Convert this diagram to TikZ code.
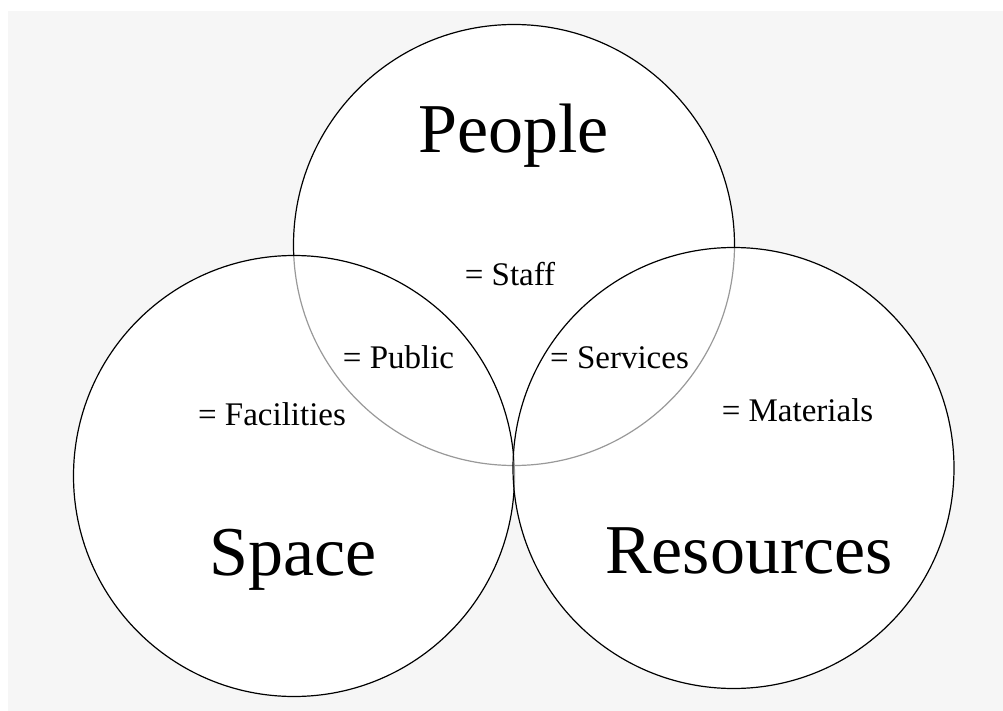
\documentclass[tikz,border=0pt]{standalone}
\usepackage{fontspec}
\setmainfont{Liberation Serif}
\definecolor{paper}{RGB}{246,246,246}

\begin{document}
\begin{tikzpicture}[x=1pt,y=-1pt]
            \tikzstyle{set}=[circle,draw,line width=1.2pt,inner sep=0pt,minimum size=441pt]
            \tikzstyle{big}=[anchor=base,font=\fontsize{70}{84}\selectfont]
            \tikzstyle{small}=[anchor=base,font=\fontsize{33}{40}\selectfont]
            \useasboundingbox (0,0) rectangle (1003,711);
            \fill[white] (0,0) rectangle (1003,711);
            \fill[paper] (8,11) rectangle (1003,711);
            % white insides first, then the outlines
            \fill[white] (294,476) circle (220.5) (733.5,468) circle (220.5);
            \node[set,fill=white] (people) at (514,245) {};
            \node[set,fill=white,fill opacity=0.6] (space) at (294,476) {};
            \node[set,fill=white,fill opacity=0.6] (resources) at (733.5,468) {};
            \node[big] (peopletext) at (513.5,153) {People};
            \node[big] (spacetext) at (293,575) {Space};
            \node[big] (resourcestext) at (749,573) {Resources};
            \node[small] (staff) at (510,285) {= Staff};
            \node[small] (public) at (398.5,368) {= Public};
            \node[small] (services) at (619.5,368) {= Services};
            \node[small] (facilities) at (272,425) {= Facilities};
            \node[small] (materials) at (797.5,421) {= Materials};
        \end{tikzpicture}
\end{document}
